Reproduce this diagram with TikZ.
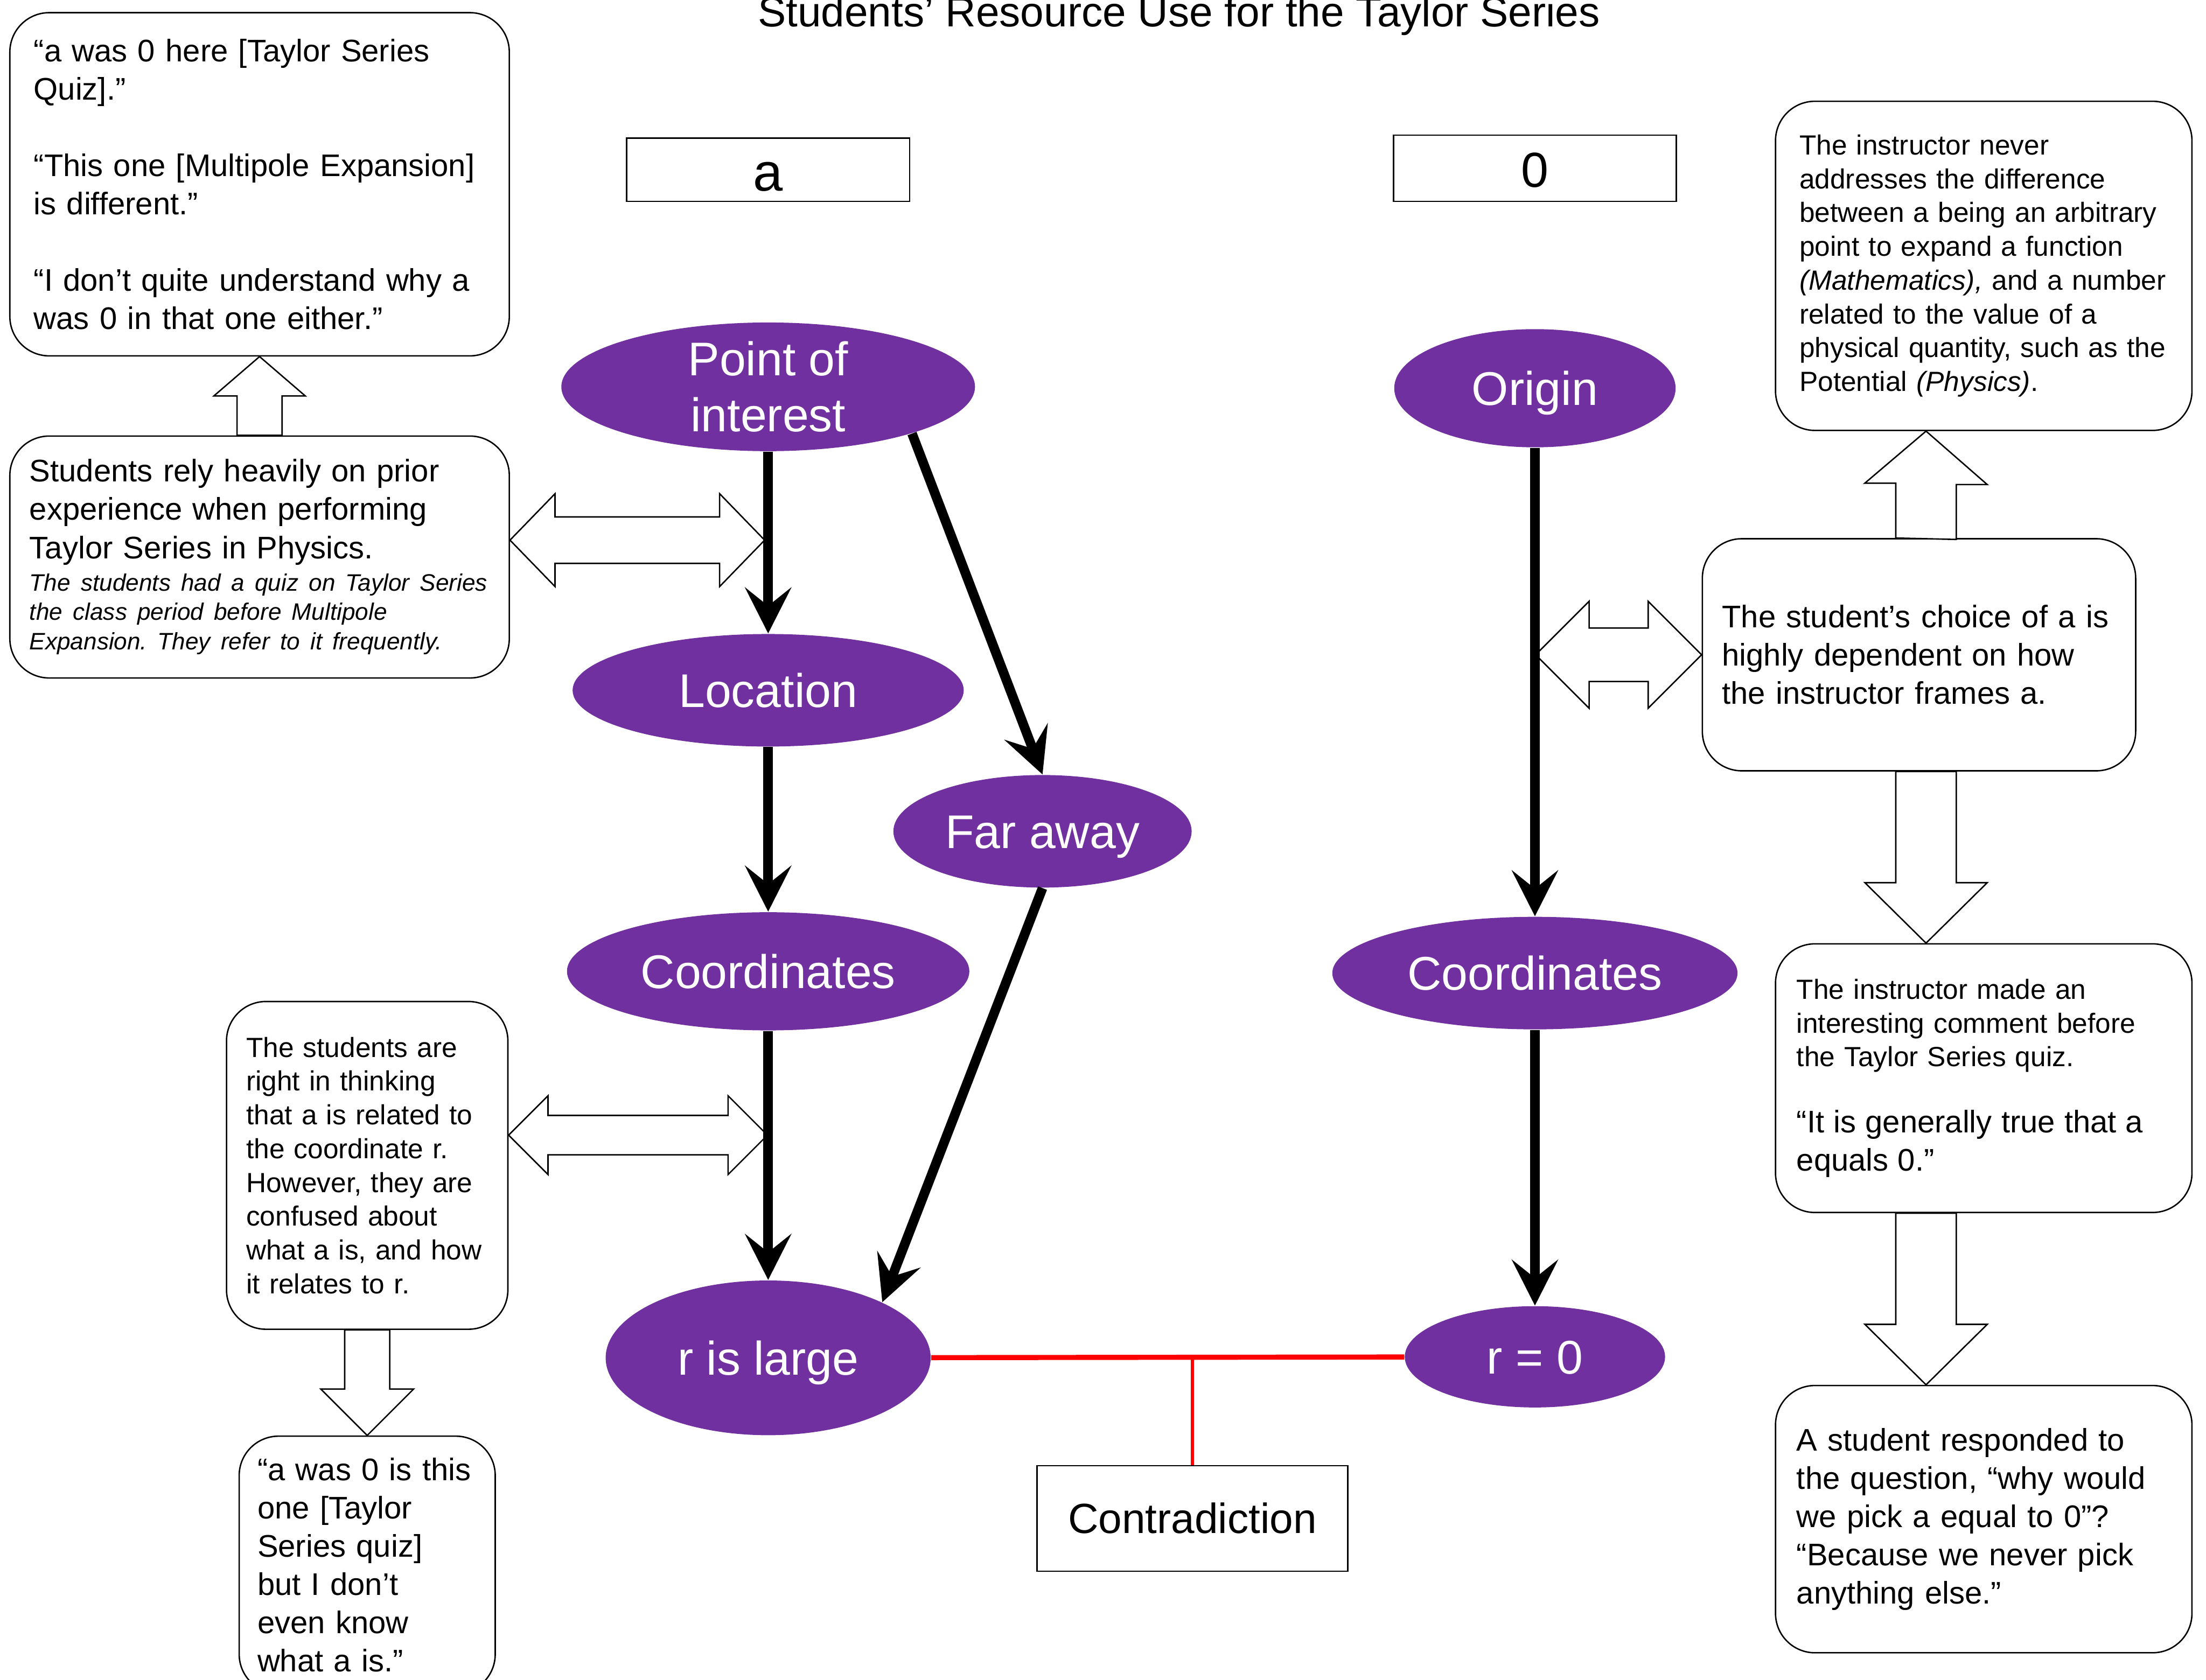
\documentclass[tikz,border=0pt]{standalone}
\usepackage{fontspec}
\setmainfont{Liberation Sans}
\usepackage{tikz}
\usetikzlibrary{arrows.meta, positioning, shapes.geometric, calc}
\frenchspacing

\definecolor{conceptpurple}{HTML}{7030A0}

\begin{document}
\begin{tikzpicture}[
    x=0.5pt, y=-0.5pt,
    concept/.style={ellipse, fill=conceptpurple, text=white, inner sep=0pt,
                    text height=12pt, text depth=0pt,
                    align=center, font=\fontsize{16.8}{20}\selectfont},
    tag/.style={rectangle, draw, line width=0.5pt, inner sep=0pt,
                font=\fontsize{19}{22}\selectfont},
    note/.style={rectangle, draw, line width=0.5pt, rounded corners=14pt,
                 align=left, inner ysep=0pt},
    bignote/.style={note, font=\fontsize{11.1}{13.6}\selectfont},
    smallnote/.style={note, font=\fontsize{9.85}{12}\selectfont},
    flow/.style={-{Stealth[length=16.3pt, width=16.4pt, inset=6.5pt]}, line width=3.4pt},
    hollow/.style={draw, fill=white, line width=0.5pt},
    conflict/.style={draw=red, line width=1.8pt},
    node distance=60pt
]
\useasboundingbox (0,0) rectangle (1568,1194);

\node[anchor=base, font=\fontsize{15}{18}\selectfont] (title) at (838,18.8)
    {Students’ Resource Use for the Taylor Series};

% chain for a
\node[concept, text height=, text depth=, minimum width=147pt, minimum height=45pt] (poi) at (546,275)
    {Point of\\interest};
\node[concept, minimum width=139pt, minimum height=40pt, below=64.6pt of poi] (location) {Location};
\node[concept, minimum width=143pt, minimum height=42pt, below=58.5pt of location] (coordl) {Coordinates};
\node[concept, minimum width=115.5pt, minimum height=55pt, below=88.5pt of coordl] (rlarge) {r is large};
\node[concept, minimum width=106pt, minimum height=40pt] (faraway) at (741,591) {Far away};
\node[tag, minimum width=100.5pt, minimum height=22.5pt, text height=15pt, text depth=0pt,
      above=42.6pt of poi] (taga) {a};

% chain for 0
\node[concept, minimum width=100pt, minimum height=42pt] (origin) at (1091,276) {Origin};
\node[concept, minimum width=144pt, minimum height=40pt, below=166.5pt of origin] (coordr) {Coordinates};
\node[concept, minimum width=92.5pt, minimum height=36pt, below=98pt of coordr] (rzero) {r = 0};
\node[tag, minimum width=100.5pt, minimum height=23.5pt, text height=13.5pt, text depth=0pt,
      font=\fontsize{17.5}{21}\selectfont, above=45pt of origin] (tagzero) {0};

\node[tag, minimum width=110.5pt, minimum height=37.5pt, font=\fontsize{15}{18}\selectfont]
    (contra) at (847.5,1079.5) {Contradiction};

% notes, left
\node[bignote, text width=160.5pt, inner xsep=8.5pt, minimum height=122pt] (q1) at (184.5,131)
    {“a was 0 here [Taylor Series\\ Quiz].”\\[13.6pt] “This one [Multipole Expansion]\\ is different.”\\[13.6pt]
     “I don’t quite understand why a\\ was 0 in that one either.”};
\node[bignote, text width=163.5pt, inner xsep=7pt, minimum height=86pt, below=28pt of q1] (prior)
    {{Students rely heavily on prior\\ experience when performing\\ Taylor Series in Physics.\par}\vspace{1pt}%
     {\fontsize{8.45}{10.5}\selectfont\itshape The students had a quiz on Taylor Series\\
      the class period before Multipole\\ Expansion. They refer to it frequently.\par}\vspace{2pt}};
\node[smallnote, text width=86pt, inner xsep=7pt, minimum height=116.5pt] (insight) at (261,828.5)
    {The students are\\ right in thinking\\ that a is related to\\ the coordinate r.\\ However, they are\\
     confused about\\ what a is, and how\\ it relates to r.};
\node[bignote, text width=78pt, inner xsep=6.5pt, minimum height=91.5pt, below=37.5pt of insight] (quote2)
    {“a was 0 is this\\ one [Taylor\\ Series quiz]\\ but I don’t\\ even know\\ what a is.”};

% notes, right
\node[smallnote, text width=131pt, inner xsep=8.5pt, minimum height=117pt] (right1) at (1410,189)
    {The instructor never\\ addresses the difference\\ between a being an arbitrary\\ point to expand a function\\
     \textit{(Mathematics),} and a number\\ related to the value of a\\ physical quantity, such as the\\
     Potential \textit{(Physics)}.};
\node[bignote, text width=140pt, inner xsep=7pt, minimum height=82.5pt] (choice) at (1364,465.5)
    {The student’s choice of a is\\ highly dependent on how\\ the instructor frames a.};
\node[smallnote, text width=133pt, inner xsep=7.5pt, minimum height=95.5pt, below=182pt of right1] (right2)
    {{The instructor made an\\ interesting comment before\\ the Taylor Series quiz.\par}\vspace{10pt}%
     {\fontsize{11.1}{13.5}\selectfont “It is generally true that a\\ equals 0.”\par}};
\node[bignote, text width=133pt, inner xsep=7.5pt, minimum height=95pt, below=61pt of right2] (right3)
    {A student responded to\\ the question, “why would\\ we pick a equal to 0”?\\ “Because we never pick\\
     anything else.”};

% hollow block arrows
\draw[hollow] ($(prior.north)+(-16,0)$) -- ++(0,-28) -- ++(-16.5,0) -- (q1.south)
    -- ++(32.5,28) -- ++(-16.5,0) -- ++(0,28) -- cycle;
\draw[hollow] ($(prior.east)+(0,-12)$) -- ++(32,-33) -- ++(0,16.5) -- ++(117,0) -- ++(0,-16.5)
    -- ++(32,33) -- ++(-32,33) -- ++(0,-16.5) -- ++(-117,0) -- ++(0,16.5) -- cycle;
\draw[hollow] ($(insight.east)+(0,-21.5)$) -- ++(28,-28) -- ++(0,14) -- ++(128,0) -- ++(0,-14)
    -- ++(28,28) -- ++(-28,28) -- ++(0,-14) -- ++(-128,0) -- ++(0,14) -- cycle;
\draw[hollow] ($(insight.south)+(-16,0)$) -- ++(0,42) -- ++(-17,0) -- (quote2.north)
    -- ++(33,-33) -- ++(-17,0) -- ++(0,-42) -- cycle;
\draw[hollow] (choice.west) -- ++(-38,-38) -- ++(0,19) -- ++(-42,0) -- ++(0,-19)
    -- ++(-38,38) -- ++(38,38) -- ++(0,-19) -- ++(42,0) -- ++(0,19) -- cycle;
\coordinate (spine) at ($(choice.north)+(5,0)$);
\draw[hollow] ($(spine)+(-21.5,0)$) -- ++(0,-39) -- ++(-22,0) -- (spine |- right1.south)
    -- ++(43.5,38) -- ++(-22,0) -- ++(0,39) -- cycle;
\draw[hollow] (spine |- right2.north) -- ++(-43.5,-43) -- ++(22,0) -- ++(0,-79) -- ++(43,0)
    -- ++(0,79) -- ++(22,0) -- cycle;
\draw[hollow] (spine |- right3.north) -- ++(-43.5,-43) -- ++(22,0) -- ++(0,-79) -- ++(43,0)
    -- ++(0,79) -- ++(22,0) -- cycle;

% concept arrows
\draw[flow] (poi) -- (location);
\draw[flow] (poi.-18) -- (faraway.north);
\draw[flow] (location) -- (coordl);
\draw[flow] (faraway.south) -- (rlarge.26);
\draw[flow] (coordl) -- (rlarge);
\draw[flow] (origin) -- (coordr);
\draw[flow] (coordr) -- (rzero);

\draw[conflict] (rlarge) -- (rzero);
\draw[red, line width=1.2pt] (contra.north) -- (contra.north |- rlarge.east);

\end{tikzpicture}
\end{document}
